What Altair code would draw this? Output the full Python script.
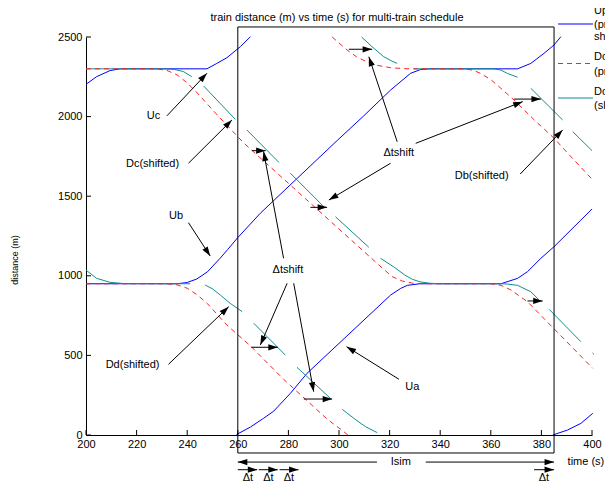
import math
import altair as alt
import pandas as pd

W, H = 506, 398
XMIN, XMAX, YMIN, YMAX = 200, 400, 0, 2500
SX = W / (XMAX - XMIN)
SY = H / (YMAX - YMIN)

x_ticks = [200, 220, 240, 260, 280, 300, 320, 340, 360, 380, 400]
y_ticks = [0, 500, 1000, 1500, 2000, 2500]

# ---- uptrains (blue) ----
uc_t = [200, 204.2, 209.5, 213.5, 247.8, 251.7, 255.7, 261, 265]
uc_d = [2203, 2251, 2289, 2300, 2300, 2334, 2370, 2439, 2502]
ub_t = [200, 236, 240, 243.8, 248, 253, 256, 260, 268.9, 299.3, 309.8, 320.4, 328.3, 332.3, 336, 370.6, 375.8, 381, 385, 387.7]
ub_d = [950, 950, 958, 980, 1025, 1110, 1165, 1240, 1393, 1850, 2005, 2167, 2272, 2296, 2300, 2300, 2334, 2397, 2450, 2502]
ua_t = [259.5, 265, 270.2, 274.2, 280.8, 287.4, 320.4, 324.4, 327, 332, 364, 370.6, 374.5, 379.8, 385, 395.6, 400]
ua_d = [3, 50, 105, 150, 262, 388, 879, 921, 940, 950, 950, 984, 1026, 1110, 1183, 1350, 1420]
ua2_t = [384.5, 390.3, 395.6, 400.3]
ua2_d = [0, 31, 73, 136]

# ---- downtrains, present (red dashed) ----
d1_t = [200, 228, 232, 236, 240, 244, 248, 252, 262.3, 317, 321, 325, 329, 333, 360, 364, 368, 374.5, 400.3]
d1_d = [2300, 2300, 2290, 2262, 2212, 2148, 2078, 2008, 1835, 1050, 995, 967, 954, 950, 950, 940, 911, 837, 419]
d2_t = [200, 232, 236, 240, 244, 248, 255.7, 265, 278.1, 287.4, 295.3, 301.9, 303.5]
d2_d = [950, 950, 943, 922, 880, 825, 690, 560, 350, 215, 100, 21, 0]
d3_t = [297.3, 303.2, 307, 311.1, 315.1, 320.4, 326, 330, 349, 353, 356, 360, 364, 369.2, 377.2, 385, 391.7, 400.3]
d3_d = [2500, 2418, 2375, 2343, 2322, 2307, 2301, 2300, 2300, 2292, 2271, 2232, 2178, 2104, 1979, 1864, 1748, 1602]

# ---- downtrains, shifted (teal pieces) ----
shift_t = [
    [200, 231, 235, 238.5, 241.8],
    [246.5, 259],
    [263.6, 276.2],
    [280.8, 294.0],
    [298.6, 311.8],
    [316.4, 322, 326, 329, 332, 336, 340, 364, 366.6, 370.6, 375.8, 379.1],
    [383.1, 395.6],
    [400.2, 400.8],
    [308.9, 313, 317.7, 320.5, 323],
    [329.6, 361.3, 364, 366.6, 370.6],
    [375.8, 388.4],
    [392.4, 400],
    [200, 204.2, 209.5, 215, 241.2],
    [247.1, 250, 253.1, 257, 261.7],
    [266.3, 278.8],
    [283.4, 296.6],
    [301.3, 306, 310.5, 315.1],
]
shift_d = [
    [2300, 2300, 2296, 2283, 2251],
    [2192, 1983],
    [1916, 1713],
    [1644, 1434],
    [1371, 1179],
    [1110, 1052, 1005, 978, 962, 953, 950, 950, 948, 940, 900, 848],
    [789, 586],
    [515, 506],
    [2500, 2440, 2376, 2352, 2334],
    [2300, 2300, 2292, 2271, 2247],
    [2178, 1979],
    [1905, 1786],
    [1036, 984, 959, 951, 950],
    [942, 918, 879, 827, 775],
    [702, 502],
    [425, 230],
    [161, 103, 52, 15],
]

# ---- annotation arrows (tail -> head) ----
arrow_t0 = [232.0, 240.5, 240.5, 232.6, 323.7, 371.6, 323.0, 330.3, 320.4, 278.1, 279.5, 282.1,
            265.6, 288.7, 265.3, 286.1, 303.9, 369.2, 374.5,
            315.0, 334.3, 260.0, 268.3, 276.5, 377.1]
arrow_d0 = [2005, 1707, 1334, 444, 350, 1639, 1842, 1832, 1707, 1110, 953, 953,
            1786, 1430, 551, 226, 2423, 2110, 842,
            -170, -170, -218, -218, -218, -218]
arrow_t1 = [247.8, 257.7, 249.1, 256.4, 303.0, 388.4, 311.8, 372.6, 296.0, 270.2, 268.9, 290.0,
            271.0, 295.3, 275.8, 297.3, 313.1, 379.8, 380.5,
            260.0, 385.0, 267.7, 275.8, 284.0, 385.0]
arrow_d1 = [2272, 1979, 1124, 806, 555, 1916, 2376, 2094, 1476, 1780, 565, 272,
            1786, 1430, 551, 226, 2423, 2110, 842,
            -170, -170, -218, -218, -218, -218]

label_text = ["Uc", "Dc(shifted)", "Ub", "Dd(shifted)", "Ua", "Db(shifted)", "\u0394tshift", "\u0394tshift",
              "Isim", "time (s)", "\u0394t", "\u0394t", "\u0394t", "\u0394t"]
label_t = [226.7, 226.3, 235.6, 218.4, 329.0, 356.4, 323.6, 279.8, 324.4, 397.6, 264.0, 272.1, 280.2, 381.0]
label_d = [2004, 1702, 1376, 440, 303, 1627, 1773, 1036, -170, -170, -268, -268, -268, -268]

box_t = [260, 385]
box_d = [-113, 2563]

legend_lines = ["Uptrains", "(present and", "shifted)", "Downtrains", "(present)", "Downtrains", "(shifted)"]
legend_line_y = [-26, -12, 0, 20, 35, 55, 69]

BLUE, RED, TEAL = "#0000ff", "#ff2020", "#0e8f8f"
FONT = "Liberation Sans"


def segs(names, ts, ds):
    rows = []
    for n, tt, dd in zip(names, ts, ds):
        for a, b in zip(tt, dd):
            rows.append({"t": a, "d": b, "seg": n})
    return pd.DataFrame(rows)


blue_df = segs(["Uc", "Ub", "Ua", "Ua2"], [uc_t, ub_t, ua_t, ua2_t], [uc_d, ub_d, ua_d, ua2_d])
red_df = segs(["D1", "D2", "D3"], [d1_t, d2_t, d3_t], [d1_d, d2_d, d3_d])
teal_df = segs([f"S{i}" for i in range(len(shift_t))], shift_t, shift_d)

xs = alt.Scale(domain=[XMIN, XMAX], nice=False, zero=False)
ys = alt.Scale(domain=[YMIN, YMAX], nice=False, zero=False)
xax = alt.Axis(values=x_ticks, title=None, ticks=False, tickSize=0, labelPadding=3, format="d",
               grid=False, labelFlush=False, domain=True)
yax = alt.Axis(values=y_ticks, title=None, ticks=False, tickSize=0, labelPadding=4, format="d",
               grid=False, labelFlush=False, domain=True)


def X(f="t"):
    return alt.X(f"{f}:Q", scale=xs, axis=xax, title=None)


def Y(f="d"):
    return alt.Y(f"{f}:Q", scale=ys, axis=yax, title=None)


blue = alt.Chart(blue_df).mark_line(color=BLUE, strokeWidth=1).encode(x=X(), y=Y(), detail="seg:N")
teal = alt.Chart(teal_df).mark_line(color=TEAL, strokeWidth=1).encode(x=X(), y=Y(), detail="seg:N")
red = alt.Chart(red_df).mark_line(color=RED, strokeWidth=1, strokeDash=[5, 4]).encode(x=X(), y=Y(), detail="seg:N")

# arrows
arr = pd.DataFrame({"t": arrow_t0, "d": arrow_d0, "t2": arrow_t1, "d2": arrow_d1})
arr["ang"] = [
    math.degrees(math.atan2(-(b1 - b0) * SY, (a1 - a0) * SX)) % 360
    for a0, b0, a1, b1 in zip(arrow_t0, arrow_d0, arrow_t1, arrow_d1)
]
arrow_lines = alt.Chart(arr).mark_rule(color="black", strokeWidth=1).encode(
    x=X(), y=Y(), x2="t2:Q", y2="d2:Q")
heads = alt.Chart(arr).mark_point(
    shape="M0,0L-1,-0.33L-1,0.33Z", filled=True, color="black", opacity=1, size=360
).encode(x=X("t2"), y=Y("d2"), angle=alt.Angle("ang:Q", scale=None))

labels = alt.Chart(pd.DataFrame({"t": label_t, "d": label_d, "txt": label_text})).mark_text(
    font=FONT, fontSize=11, color="black", align="center", baseline="middle"
).encode(x=X(), y=Y(), text="txt:N")

box = alt.Chart(pd.DataFrame({"t": [box_t[0]], "t2": [box_t[1]], "d": [box_d[0]], "d2": [box_d[1]]})).mark_rect(
    fillOpacity=0, stroke="black", strokeWidth=1
).encode(x=X(), x2="t2:Q", y=Y(), y2="d2:Q")

xt = alt.Chart(pd.DataFrame({"t": x_ticks})).mark_rule(color="black", strokeWidth=1).encode(
    x=X(), y=alt.value(H), y2=alt.value(H - 5))
yt = alt.Chart(pd.DataFrame({"d": y_ticks})).mark_rule(color="black", strokeWidth=1).encode(
    y=Y(), x=alt.value(0), x2=alt.value(5))

title = alt.Chart(pd.DataFrame({"txt": ["train distance (m) vs time (s) for multi-train schedule"]})).mark_text(
    font=FONT, fontSize=11, color="black", align="center", baseline="alphabetic"
).encode(x=alt.value(251), y=alt.value(-16), text="txt:N")

ytitle = alt.Chart(pd.DataFrame({"txt": ["distance (m)"]})).mark_text(
    font=FONT, fontSize=9, color="black", align="center", baseline="middle", angle=270
).encode(x=alt.value(-71), y=alt.value(223), text="txt:N")

leg = []
for col, yy, dash in [(BLUE, -13, None), (RED, 26.5, [5, 4]), (TEAL, 61, None)]:
    kw = dict(color=col, strokeWidth=1)
    if dash:
        kw["strokeDash"] = dash
    leg.append(alt.Chart(pd.DataFrame({"k": [0]})).mark_rule(**kw).encode(
        x=alt.value(472), x2=alt.value(507), y=alt.value(yy)))
for txt, yy in zip(legend_lines, legend_line_y):
    leg.append(alt.Chart(pd.DataFrame({"txt": [txt]})).mark_text(
        font=FONT, fontSize=11, color="black", align="left", baseline="middle"
    ).encode(x=alt.value(508), y=alt.value(yy), text="txt:N"))

chart = alt.layer(
    blue, teal, red, box, arrow_lines, heads, labels, xt, yt, title, ytitle, *leg
).properties(
    width=W, height=H,
    padding={"left": 78, "top": 29, "right": 13, "bottom": 50},
    autosize=alt.AutoSizeParams(type="none"),
).configure_view(stroke=None).configure_axis(
    domainColor="black", labelColor="black", labelFont=FONT, labelFontSize=11, domainWidth=1
)

chart.save("out.html", embed_options={"renderer": "svg", "actions": False})
